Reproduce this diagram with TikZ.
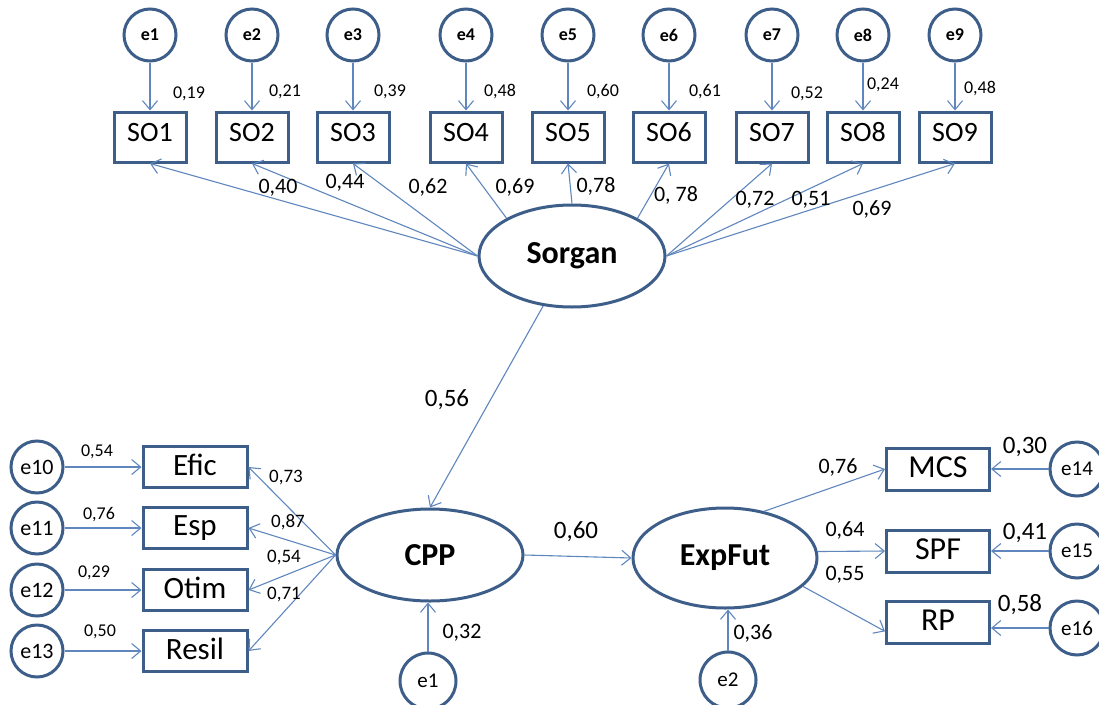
\documentclass[tikz,border=0pt]{standalone}
\usepackage{fontspec}
\setmainfont{Carlito}
\usetikzlibrary{arrows.meta,shapes.geometric}

\definecolor{framecol}{RGB}{62,94,138}
\definecolor{linkcol}{RGB}{95,135,190}

\tikzset{
  latent/.style={ellipse,draw=framecol,line width=3pt,minimum width=186pt,minimum height=100pt,inner sep=0pt,font=\fontsize{32}{36}\selectfont\bfseries},
  errc/.style={circle,draw=framecol,line width=3pt,minimum size=52pt,inner sep=0pt,font=\fontsize{22}{25}\selectfont},
  topc/.style={errc,font=\fontsize{18}{22}\selectfont\bfseries},
  itembox/.style={rectangle,draw=framecol,line width=3pt,inner sep=0pt,minimum width=72pt,minimum height=50pt,text depth=10pt,font=\fontsize{28}{32}\selectfont},
  bigbox/.style={itembox,minimum width=104pt,minimum height=41pt,text depth=4pt,font=\fontsize{31}{34}\selectfont},
  link/.style={draw=linkcol,line width=1.1pt,->},
  wt/.style={inner sep=0pt,font=\fontsize{18}{21}\selectfont},
  wm/.style={inner sep=0pt,font=\fontsize{22}{25}\selectfont},
  wl/.style={inner sep=0pt,font=\fontsize{25}{28}\selectfont},
  >={Straight Barb[length=9pt,width=15pt]}
}

\begin{document}
\begin{tikzpicture}[x=1pt,y=-1pt]
    \useasboundingbox[fill=white] (0,0) rectangle (1099,704);

    \node[topc] (e1) at (150,35) {e1};
    \node[topc] (e2) at (252,35) {e2};
    \node[topc] (e3) at (353,35) {e3};
    \node[topc] (e4) at (466,35) {e4};
    \node[topc] (e5) at (568,35) {e5};
    \node[topc] (e6) at (669,35) {e6};
    \node[topc] (e7) at (772,35) {e7};
    \node[topc] (e8) at (863,35) {e8};
    \node[topc] (e9) at (955,35) {e9};

    \node[itembox] (SO1) at (150,137) {SO1};
    \node[itembox] (SO2) at (252,137) {SO2};
    \node[itembox] (SO3) at (353,137) {SO3};
    \node[itembox] (SO4) at (466,137) {SO4};
    \node[itembox] (SO5) at (568,137) {SO5};
    \node[itembox] (SO6) at (669,137) {SO6};
    \node[itembox] (SO7) at (772,137) {SO7};
    \node[itembox] (SO8) at (863,137) {SO8};
    \node[itembox] (SO9) at (955,137) {SO9};

    \draw[link] (e1) -- (SO1);
    \draw[link] (e2) -- (SO2);
    \draw[link] (e3) -- (SO3);
    \draw[link] (e4) -- (SO4);
    \draw[link] (e5) -- (SO5);
    \draw[link] (e6) -- (SO6);
    \draw[link] (e7) -- (SO7);
    \draw[link] (e8) -- (SO8);
    \draw[link] (e9) -- (SO9);
    \node[wt] (r1) at (189,94) {0,19};
    \node[wt] (r2) at (285,92) {0,21};
    \node[wt] (r3) at (390,92) {0,39};
    \node[wt] (r4) at (500,92) {0,48};
    \node[wt] (r5) at (603,92) {0,60};
    \node[wt] (r6) at (705,92) {0,61};
    \node[wt] (r7) at (807,94) {0,52};
    \node[wt] (r8) at (883,85) {0,24};
    \node[wt] (r9) at (980,89) {0,48};

    \node[latent,minimum height=102pt] (Sorgan) at (572,256) {Sorgan};
    \draw[link] (Sorgan.west) -- (SO1.south);
    \draw[link] (Sorgan.west) -- (SO2.south);
    \draw[link] (Sorgan.west) -- (SO3.south);
    \draw[link] (Sorgan.150) -- (SO4.south);
    \draw[link] (Sorgan.north) -- (SO5.south);
    \draw[link] (Sorgan.30) -- (SO6.south);
    \draw[link] (Sorgan.east) -- (SO7.south);
    \draw[link] (Sorgan.east) -- (SO8.south);
    \draw[link] (Sorgan.east) -- (SO9.south);
    \node[wm] (l1) at (278,188) {0,40};
    \node[wm] (l2) at (345,183) {0,44};
    \node[wm] (l3) at (428,187) {0,62};
    \node[wm] (l4) at (515,187) {0,69};
    \node[wm] (l5) at (596,186) {0,78};
    \node[wm] (l6) at (676,195) {0, 78};
    \node[wm] (l7) at (755,200) {0,72};
    \node[wm] (l8) at (811,200) {0,51};
    \node[wm] (l9) at (872,209) {0,69};

    \node[latent,minimum height=92pt] (CPP) at (430,555) {CPP};
    \node[latent,minimum width=184pt] (ExpFut) at (725,558) {ExpFut};
    \draw[link] (Sorgan.240) -- (CPP.north);
    \node[wl] (b1) at (447,400) {0,56};
    \draw[link] (CPP.east) -- (ExpFut.west);
    \node[wl] (b2) at (576,532) {0,60};

    \node[bigbox] (Efic) at (195,467) {Efic};
    \node[bigbox] (Esp) at (195,528) {Esp};
    \node[bigbox] (Otim) at (195,590) {Otim};
    \node[bigbox] (Resil) at (195,651) {Resil};
    \node[errc] (e10) at (37,467) {e10};
    \node[errc] (e11) at (37,528) {e11};
    \node[errc] (e12) at (37,590) {e12};
    \node[errc] (e13) at (37,651) {e13};
    \draw[link] (e10) -- (Efic);
    \draw[link] (e11) -- (Esp);
    \draw[link] (e12) -- (Otim);
    \draw[link] (e13) -- (Resil);
    \node[wt] (r10) at (97,452) {0,54};
    \node[wt] (r11) at (99,515) {0,76};
    \node[wt] (r12) at (94,573) {0,29};
    \node[wt] (r13) at (100,632) {0,50};
    \draw[link] (CPP.west) -- (Efic.east);
    \draw[link] (CPP.west) -- (Esp.east);
    \draw[link] (CPP.west) -- (Otim.east);
    \draw[link] (CPP.west) -- (Resil.east);
    \node[wt,font=\fontsize{19}{22}\selectfont] (c1) at (286,478) {0,73};
    \node[wt,font=\fontsize{19}{22}\selectfont] (c2) at (288,522) {0,87};
    \node[wt,font=\fontsize{19}{22}\selectfont] (c3) at (284,558) {0,54};
    \node[wt,font=\fontsize{19}{22}\selectfont] (c4) at (284,595) {0,71};

    \node[errc,minimum size=56pt,font=\fontsize{21}{24}\selectfont] (z1) at (428,681) {e1};
    \draw[link] (z1) -- (CPP.south -| z1);
    \node[wm] (d1) at (462,633) {0,32};
    \node[errc,minimum size=56pt,font=\fontsize{21}{24}\selectfont] (z2) at (728,680) {e2};
    \draw[link] (z2) -- (ExpFut.south -| z2);
    \node[wm] (d2) at (753,633) {0,36};

    \node[bigbox,minimum width=103pt,minimum height=42pt,font=\fontsize{32}{36}\selectfont] (MCS) at (938,469) {MCS};
    \node[bigbox,minimum width=103pt,minimum height=42pt,font=\fontsize{32}{36}\selectfont] (SPF) at (938,551) {SPF};
    \node[bigbox,minimum width=103pt,minimum height=42pt,font=\fontsize{32}{36}\selectfont] (RP) at (938,622) {RP};
    \node[errc,minimum size=54pt,font=\fontsize{21}{24}\selectfont] (e14) at (1077,469) {e14};
    \node[errc,minimum size=54pt,font=\fontsize{21}{24}\selectfont] (e15) at (1077,551) {e15};
    \node[errc,minimum size=54pt,font=\fontsize{21}{24}\selectfont] (e16) at (1077,628) {e16};
    \draw[link] (e14) -- (MCS);
    \draw[link] (e15) -- (SPF);
    \draw[link] (e16.west) -- (RP.east |- e16.west);
    \node[wl] (r14) at (1025,447) {0,30};
    \node[wl] (r15) at (1025,533) {0,41};
    \node[wl] (r16) at (1020,605) {0,58};
    \draw[link] (ExpFut.50) -- (MCS.west);
    \draw[link] (ExpFut.4) -- (SPF.west);
    \draw[link] (ExpFut.-20) -- (RP.190);
    \node[wm] (f1) at (838,467) {0,76};
    \node[wm] (f2) at (845,530) {0,64};
    \node[wm] (f3) at (845,575) {0,55};
\end{tikzpicture}
\end{document}
